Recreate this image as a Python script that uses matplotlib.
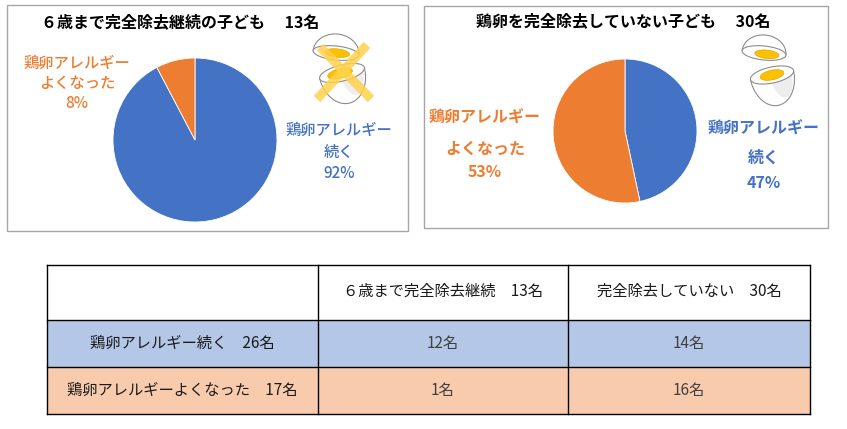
import numpy as np
import matplotlib
matplotlib.use("Agg")
import matplotlib.pyplot as plt
from matplotlib.patches import Rectangle, Polygon

plt.rcParams['font.family'] = ['Noto Sans CJK JP', 'DejaVu Sans']

# ---- data ----
groups = ['６歳まで完全除去継続', '完全除去していない']
group_totals = [13, 30]
chart_titles = ['６歳まで完全除去継続の子ども', '鶏卵を完全除去していない子ども']
outcomes = ['鶏卵アレルギー続く', '鶏卵アレルギーよくなった']
outcome_totals = [26, 17]
continued = [12, 14]   # 鶏卵アレルギー続く
improved = [1, 16]     # 鶏卵アレルギーよくなった
label_continued = ['鶏卵アレルギー', '続く']
label_improved = ['鶏卵アレルギー', 'よくなった']

BLUE = '#4472C4'
ORANGE = '#ED7D31'
W, H = 847, 429

fig = plt.figure(figsize=(W / 100, H / 100), dpi=100)
ax0 = fig.add_axes([0, 0, 1, 1])
ax0.set_xlim(0, W)
ax0.set_ylim(H, 0)
ax0.axis('off')

# ---- chart boxes ----
for (x0, y0, x1, y1) in [(7, 5, 408, 231), (424, 6, 828, 228)]:
    ax0.add_patch(Rectangle((x0, y0), x1 - x0, y1 - y0, fill=False,
                            edgecolor='#A6A6A6', lw=1.0))

# ---- egg illustration ----
def rot(x, y, cx, cy, a):
    a = np.deg2rad(a)
    return cx + x * np.cos(a) - y * np.sin(a), cy + x * np.sin(a) + y * np.cos(a)

def ell(cx, cy, rx, ry, a, **kw):
    t = np.linspace(0, 2 * np.pi, 80)
    X, Y = rot(rx * np.cos(t), ry * np.sin(t), cx, cy, a)
    ax0.add_patch(Polygon(np.c_[X, Y], closed=True, **kw))

def piece(cx, cy, rx, ry, h, a, yolk_dx=0, yolk_dy=0):
    t = np.linspace(0, np.pi, 60)
    sgn = -1 if h < 0 else 1
    x = rx * np.cos(t)
    y = sgn * abs(h) * np.sin(t)
    X, Y = rot(x, y, cx, cy, a)
    ax0.add_patch(Polygon(np.c_[X, Y], closed=True, facecolor='white',
                          edgecolor='#8C8C8C', lw=0.8))
    if h > 0:
        x2 = rx * 0.5 * np.cos(t) + rx * 0.4
        y2 = abs(h) * 0.8 * np.sin(t)
        X2, Y2 = rot(x2, y2, cx, cy, a)
        ax0.add_patch(Polygon(np.c_[X2, Y2], closed=True, facecolor='#EDEDED',
                              edgecolor='none'))
    ell(cx, cy, rx, ry, a, facecolor='white', edgecolor='#8C8C8C', lw=0.8)
    xc, yc = rot(yolk_dx, yolk_dy, cx, cy, a)
    ell(xc, yc, rx * 0.55, ry * 0.6, a, facecolor='#FFC000',
        edgecolor='#E0A800', lw=0.5)

# left egg (with cross)
piece(336, 53, 23, 7, -19, 6, 1, 0)
piece(342, 73, 23, 8, 31, -14, -2, 0)
ax0.plot([367, 317], [45, 99], color='#FFD24D', lw=6.5, alpha=0.85,
         solid_capstyle='butt')
ax0.plot([320, 371], [47, 99], color='#FFD24D', lw=6.5, alpha=0.85,
         solid_capstyle='butt')
# right egg
piece(764, 53, 22, 7, -18, 6, 3, 1)
piece(772, 75, 22, 8, 31, -12, 0, 0)

# ---- titles ----
ax0.text(180, 22, f'{chart_titles[0]}　 {group_totals[0]}名', ha='center',
         va='center', fontsize=11.5, fontweight='bold', color='black')
ax0.text(623, 21, f'{chart_titles[1]}　 {group_totals[1]}名', ha='center',
         va='center', fontsize=11.5, fontweight='bold', color='black')

# ---- pies ----
def pie_axes(cx, cy, r):
    return fig.add_axes([(cx - r) / W, 1 - (cy + r) / H, 2 * r / W, 2 * r / H])

centers = [(195, 140, 82), (625, 131, 72)]
pcts = []
for i, (cx, cy, r) in enumerate(centers):
    ax = pie_axes(cx, cy, r)
    vals = [continued[i], improved[i]]
    ax.pie(vals, colors=[BLUE, ORANGE], startangle=90, counterclock=False,
           radius=1.0, wedgeprops=dict(edgecolor='white', linewidth=0.6))
    ax.set_xlim(-1, 1)
    ax.set_ylim(-1, 1)
    tot = sum(vals)
    pcts.append((round(continued[i] / tot * 100), round(improved[i] / tot * 100)))

# ---- pie labels ----
def label(x, ys, lines, color, weight, fs):
    for y, s in zip(ys, lines):
        ax0.text(x, y, s, ha='center', va='center', fontsize=fs,
                 color=color, fontweight=weight)

label(77, [63, 83, 103], label_improved + [f'{pcts[0][1]}%'], ORANGE, 'medium', 11)
label(339, [130, 152, 173], label_continued + [f'{pcts[0][0]}%'], BLUE, 'medium', 11)
label(485, [118, 149, 172], label_improved + [f'{pcts[1][1]}%'], ORANGE, 'bold', 11.5)
label(764, [129, 158, 183], label_continued + [f'{pcts[1][0]}%'], BLUE, 'bold', 11.5)

# ---- table ----
xs = [47, 318, 568, 810]
ys = [265, 320, 367, 414]
row_colors = ['#B4C7E7', '#F8CBAD']
for r in range(2):
    ax0.add_patch(Rectangle((xs[0], ys[r + 1]), xs[-1] - xs[0],
                            ys[r + 2] - ys[r + 1], facecolor=row_colors[r],
                            edgecolor='none'))
for y in ys:
    ax0.plot([xs[0], xs[-1]], [y, y], color='black', lw=1.0)
for x in xs:
    ax0.plot([x, x], [ys[0], ys[-1]], color='black', lw=1.0)

tfs = 11
for j in range(2):
    ax0.text((xs[j + 1] + xs[j + 2]) / 2, (ys[0] + ys[1]) / 2 - 1,
             f'{groups[j]}　{group_totals[j]}名', ha='center', va='center',
             fontsize=tfs, color='#1A1A1A')
cells = [continued, improved]
for r in range(2):
    yc = (ys[r + 1] + ys[r + 2]) / 2
    ax0.text((xs[0] + xs[1]) / 2, yc, f'{outcomes[r]}　{outcome_totals[r]}名',
             ha='center', va='center', fontsize=tfs, color='#1A1A1A')
    for j in range(2):
        ax0.text((xs[j + 1] + xs[j + 2]) / 2, yc, f'{cells[r][j]}名',
                 ha='center', va='center', fontsize=tfs, color='#404040')

fig.savefig('out.png', dpi=100)
